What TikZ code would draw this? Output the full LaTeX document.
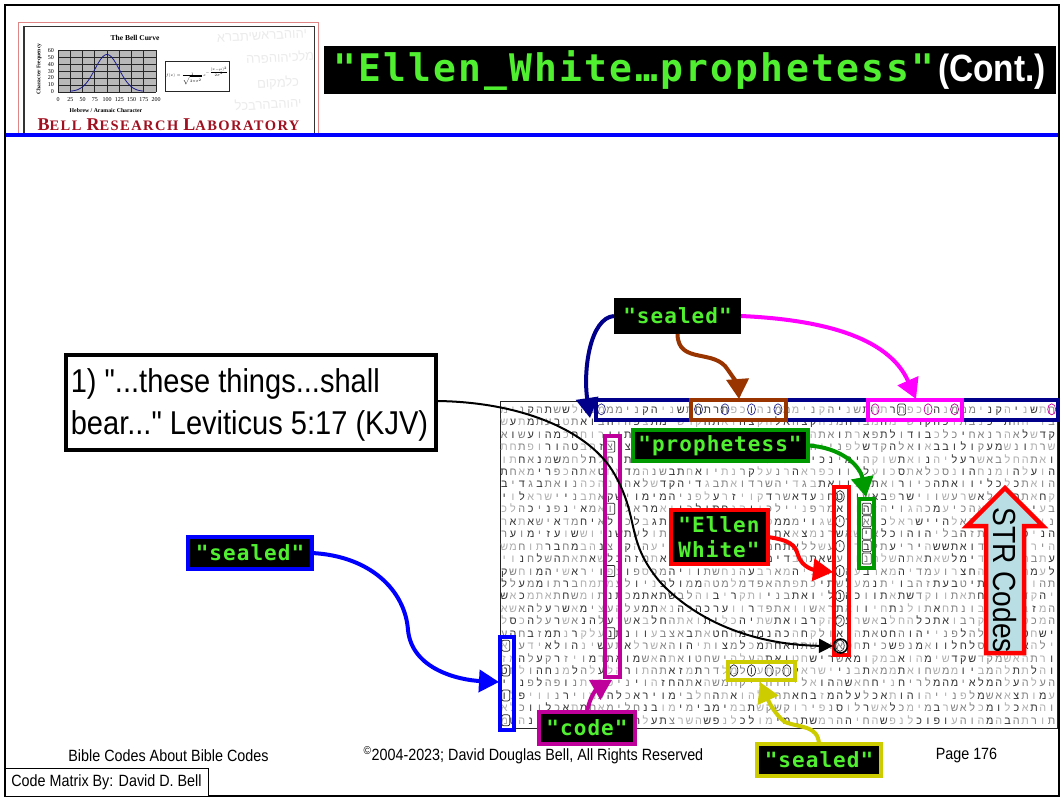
\documentclass[tikz,border=0pt]{standalone}
\usepackage{fontspec}
\usetikzlibrary{arrows.meta}
\setmainfont{Liberation Sans}
\newfontfamily\nar[FakeStretch=0.88]{Liberation Sans}
\newfontfamily\hebf[Script=Hebrew]{Liberation Sans}
\newfontfamily\lser{Liberation Serif}
\newfontfamily\termf[LetterSpace=5]{DejaVu Sans Mono Bold}
\newfontfamily\termt[LetterSpace=6]{DejaVu Sans Mono Bold}
\TeXXeTstate=1
\definecolor{hdark}{gray}{0.2}
\definecolor{hmid}{gray}{0.5}
\definecolor{hlight}{gray}{0.68}
\definecolor{termgreen}{HTML}{50F030}
\definecolor{dkblue}{HTML}{00008B}
\definecolor{brownb}{HTML}{993300}
\definecolor{purpb}{HTML}{C0009A}
\definecolor{yelb}{HTML}{CCCC00}
\definecolor{greenb}{HTML}{009900}
\definecolor{magb}{HTML}{FF00FF}
\definecolor{strfill}{HTML}{B9DEE3}
\definecolor{logored}{HTML}{A01020}
\newcount\lc \newcount\lseed \newcount\ltmp
\global\lseed=17
\def\pickcol{\global\lseed=\numexpr\lseed*137+187\relax
 \ltmp=\lseed \divide\ltmp 1009 \multiply\ltmp 1009 \global\advance\lseed-\ltmp
 \ifnum\lseed<380 \def\lcol{hdark}\else\ifnum\lseed<680 \def\lcol{hmid}\else\def\lcol{hlight}\fi\fi}
% letters are set from the right edge leftwards, each in its own cell and colour
\def\hcell#1{\ifnum\lc<63 \advance\lc 1 \pickcol\kern-8.83pt\hbox to 8.83pt{\hss\textcolor{\lcol}{#1}\hss}\kern-8.83pt\fi}
\def\hrowloop#1{\ifx#1\relax\else\hcell{#1}\expandafter\hrowloop\fi}
\def\hrow#1{\hbox to 556.29pt{\hebf\fontsize{10.8}{12}\selectfont\kern556.29pt\lc=0 \hrowloop#1\relax\hss}}
\tikzset{
 hebrow/.style={anchor=base east,inner sep=0pt,outer sep=0pt},
 termlabel/.style={fill=black,text=termgreen,font=\termf\fontsize{21}{25}\selectfont,align=center,inner sep=0pt,outer sep=0pt,line width=4pt},
 hl/.style={draw=#1,line width=4pt,inner sep=0pt,outer sep=0pt},
 conn/.style={draw=#1,line width=4pt,-{Triangle[length=20pt,width=22pt]}},
 frm/.style={draw=#1,line width=0.7pt},
 foot/.style={font=\nar\fontsize{16.3}{18}\selectfont,inner sep=0pt}
}
\begin{document}
\begin{tikzpicture}[x=1pt,y=-1pt]
\useasboundingbox (0,0) rectangle (1063,798);
\fill[white] (0,0) rectangle (1063,798);
% logo
\begin{scope}
\clip (25,27) rectangle (314,134);
\foreach \yy/\xx/\tt in {36/262/יהוהבראשיתברא,57/280/מלכיהוהפרה,83/278/כלמקום,104/268/יהוהבהרבכל}{
 \node[rotate=3,text=gray!16,inner sep=0pt,font=\hebf\fontsize{13}{14}\selectfont] at (\xx,\yy) {\beginR\tt\endR};
}
\end{scope}
\draw[draw=red!60!gray!60,line width=1pt] (18.5,133) -- (18.5,22) -- (318.5,22) -- (318.5,133);
\draw[black!80,line width=1.4pt] (24,133) -- (24,26.5) -- (314.5,26.5) -- (314.5,133);
\node[font=\lser\bfseries\fontsize{7.5}{8}\selectfont,inner sep=0pt] (logotitle) at (135,37.5) {The Bell Curve};
\fill[gray!55] (58,50) rectangle (156,92);
\foreach \i in {0,...,8}{\draw[gray!30!black,line width=0.6pt] ({58+12.25*\i},50) -- ({58+12.25*\i},92);}
\foreach \i in {0,...,6}{\draw[gray!30!black,line width=0.6pt] (58,{50+7*\i}) -- (156,{50+7*\i});}
\draw[dkblue!80!gray,line width=0.8pt,smooth,samples=50,domain=70:144] plot (\x,{91.5-37*exp(-((\x-107)/17)^2)});
\foreach \v [count=\i from 0] in {60,50,40,30,20,10,0}{
 \node[font=\lser\fontsize{6}{7}\selectfont,inner sep=0pt,anchor=east] at (54,{50.5+6.85*\i}) {\v};}
\foreach \v [count=\i from 0] in {0,25,50,75,100,125,150,175,200}{
 \node[font=\lser\fontsize{6}{7}\selectfont,inner sep=0pt] at ({58+12.25*\i},100) {\v};}
\node[rotate=90,font=\lser\bfseries\fontsize{5.5}{6}\selectfont,inner sep=0pt] (logoy) at (39,69) {Character Frequency};
\node[font=\lser\bfseries\fontsize{5.8}{6}\selectfont,inner sep=0pt] (logox) at (106,110.5) {Hebrew / Aramaic Character};
\node[draw=gray!30!black,fill=white,line width=0.7pt,minimum width=64pt,minimum height=30pt,inner sep=0pt] (formula) at (197,76)
 {\scalebox{0.72}{\fontsize{5}{6}\selectfont$f(x)=\frac{1}{\sqrt{2\pi\sigma^2}}\,e^{-\frac{(x-\mu)^2}{2\sigma^2}}$}};
\node[font=\lser\bfseries,text=logored,inner sep=0pt] (logoname) at (168.5,124.5)
 {\addfontfeature{LetterSpace=10}\fontsize{18}{18}\selectfont B\fontsize{14.5}{18}\selectfont ELL \fontsize{18}{18}\selectfont R\fontsize{14.5}{18}\selectfont ESEARCH \fontsize{18}{18}\selectfont L\fontsize{14.5}{18}\selectfont ABORATORY};
% frame, header
\draw[black,line width=2.2pt] (5,5) rectangle (1059,796);
\draw[blue,line width=3.6pt] (6,135) -- (1058,135);
\fill[black] (324,46) rectangle (1056,94);
\node[text=termgreen,inner sep=0pt,anchor=base west,font=\termt\fontsize{38}{40}\selectfont] (maintitle) at (333,81) {"Ellen\_White…prophetess"};
\node[text=white,inner sep=0pt,anchor=base east,font=\nar\bfseries\fontsize{38}{40}\selectfont] (cont) at (1046,81) {(Cont.)};
% matrix
\draw[gray!30!black,line width=1pt] (500.5,401) rectangle (1057,728);
\foreach \r/\s in {
1/חתשניהקנימממנהוכפתרתחתשניהקנימממנהוכפתרתחתשניהקנימממנהלששתהקנימ,
2/בויחהתיכנבתוכהקרשימהמברחמנהקצהאלהקצהואתהקרשימתצפהזהבואתטבעתמתעשה,
3/קדשלאהרנאחיכלכבודולתפארתואתהתדבראלכלחכמילבאשרמלאתיורוחחכמהועשוא,
4/שרתונשמעקולובבאואלהקדשלפנייהוהובצאתוולאימותועשיתציצזהבטהורופתחת,
5/ואתהחלבאשרעליהנואתשוקהימינכיאילמלאימהואוככרלחמאחתוחלתלחמשמנאחתו,
6/הועלהומנחהונסכלאתסכועליווכפראהרנעלקרנתיואחתבשנהמדמחטאתהכפרימאחת,
7/הואתכלכליוואתהכיורואתכנוואתבגדיהשרדואתבגדיהקדשלאהרנהכהנואתבגדיב,
8/קחאתהעגלאשרעשווישרפבאשויטחנעדאשרדקויזרעלפניהמימוישקאתבניישראלוי,
9/בעיניכוראהכיעמכהגויהזהויאמרפניילכווהנחתילכויאמראליואמאינפניכהלכ,
10/ניהאדניהוהאלהיישראלכיאורישגוימממפניכוהרחבתיאתגבלכולאיחמדאישאתארצ,
11/הניפתנופתזהבליהוהוכלאישאשרנמצאאתותכלתוארגמנותולעתשניוששועזימוער,
12/היריעתלבדואתששהיריעתלבדויעשללאתחמשימעלשפתהיריעההקיצנהבמחברתוחמש,
13/עתבתימלבדימלשאתאתהשלחנויעשאתהבדימעצישטימויצפאתמזהבלשאתאתהשלחנוי,
14/לעמתקלעיהחצרועמדיהמארבעהואדניהמארבעהנחשתוויהמכספוצפויראשיהמוחשק,
15/תהויעשושתיטבעתזהבויתנמעלשתיכתפתהאפדמלמטהממולפניולעמתמחברתוממעלל,
16/יהקדשומשחתאתווקדשתאתווכהנליואתבניותקריבוהלבשתאתמכתנתומשחתאתמכאש,
17/המזבחסביבונתחאתולנתחיוואתראשוואתפדרווערכהכהנאתמעלהעצימאשרעלהאשא,
18/המכסהאתהקרבואתכלהחלבאשרעלהקרבואתשתיהכליתואתהחלבאשרעלהנאשרעלהכסל,
19/ישחטאתהעלהלפנייהוהחטאתהואולקחהכהנמדמהחטאתבאצבעוונתנעלקרנתמזבחהע,
20/ילהאשמונסלחלוואמנפשכיתחטאועשתהאחתמכלמצותיהוהאשרלאתעשינהולאידעוא,
21/ורתהאשמקדשקדשימהואבמקומאשרישחטואתהעלהישחטואתהאשמואתדמויזרקעלהמז,
22/והלתתלהמביוממשחואתממאתבניישראלחקתעולמלדרתמזאתהתורהלעלהלמנחהולחט,
23/העלהעלהמלאימהמלריחניחחאשההואליהוהויקחמשהאתהחזהויניפהותנופהלפנייהו,
24/עמותצאאשמלפנייהוהותאכלעלהמזבחאתהעלהואתהחלבימויראכלהעמוירנוויפלו,
25/והתאכלומכלאשרבמימכלאשרלוסנפירוקשקשתבמימבימימובנחלימאתמתאכלווכלא,
26/תורתהבהמהוהעופוכלנפשהחיההרמשתבמימולכלנפשהשרצתעלהארצלהבדילבינהטמ}{
 \node[hebrow] (row\r) at (1056.1,{413.3+12.44*(\r-1)}) {\expandafter\hrow\expandafter{\s}};
}
% letter frames
\foreach \c in {0,11,14,20}{\draw[frm=purpb] ({1051.7-8.83*\c},409.3) ellipse [x radius=4,y radius=5.5];}
\foreach \c in {17}{\draw[frm=gray!30!black,rounded corners=1.5pt] ({1051.7-8.83*\c-4},404) rectangle +(8,11);}
\foreach \c in {31,34,37,40,51}{\draw[frm=dkblue!70!gray] ({1051.7-8.83*\c},409.3) ellipse [x radius=4,y radius=5.5];}
\foreach \r in {9,...,13}{\draw[frm=gray!30!black,rounded corners=1pt] (862.3,{403.8+12.44*(\r-1)}) rectangle +(9,11);}
\foreach \r in {8,10,...,20}{\draw[frm=gray!30!black] (840,{409.3+12.44*(\r-1)}) ellipse [x radius=4.2,y radius=5.8];}
\foreach \r in {4,9,14,19}{\draw[frm=gray!30!black,rounded corners=1pt] (605.8,{403.8+12.44*(\r-1)}) rectangle +(9,11);}
\foreach \r in {20,22,24,26}{\draw[frm=gray!30!black,rounded corners=2pt] (501.8,{403.8+12.44*(\r-1)}) rectangle +(8,11);}
\foreach \c in {30,32,34,36}{\draw[frm=gray!30!black] ({1051.7-8.83*\c},670.5) ellipse [x radius=4,y radius=5.8];}
% highlight boxes
\node[hl=dkblue,minimum width=462pt,minimum height=20pt] (topblue) at (827,409.5) {};
\node[hl=brownb,minimum width=95pt,minimum height=20pt] (topbrown) at (738.5,409.5) {};
\node[hl=magb,minimum width=94pt,minimum height=20pt] (topmag) at (915,409.5) {};
\node[hl=greenb,minimum width=15pt,minimum height=69pt] (colgreen) at (866.5,533) {};
\node[hl=red,minimum width=15pt,minimum height=168pt] (colred) at (841,570.5) {};
\node[hl=purpb,minimum width=15pt,minimum height=241pt] (colpurp) at (612.5,556.5) {};
\node[hl=blue,minimum width=14pt,minimum height=93pt] (colblue) at (506.5,683) {};
\node[hl=yelb,minimum width=67pt,minimum height=18pt] (rowyel) at (761.5,671) {};
\node[draw=black,line width=1.6pt,circle,minimum size=14pt,inner sep=0pt,outer sep=0pt] (ringa) at (840.5,646) {};
% STR arrow
\draw[draw=red,fill=strfill,line width=4.5pt,miter limit=6] (1005,488) -- (1043,526) -- (1024,526) -- (1024,653) -- (986,653) -- (986,526) -- (967,526) -- cycle;
\node[rotate=-90,inner sep=0pt,font=\nar\fontsize{32}{34}\selectfont] (strlabel) at (1005,580) {STR Codes};
% labels
\node[termlabel,minimum width=127pt,minimum height=36pt] (sealedtop) at (677.5,316) {"sealed"};
\node[termlabel,draw=greenb,minimum width=175pt,minimum height=31pt] (proph) at (720,445.5) {"prophetess"};
\node[termlabel,draw=red,minimum width=97pt,minimum height=54pt] (ellen) at (719,537) {"Ellen\\White"};
\node[termlabel,draw=blue,minimum width=124pt,minimum height=32pt] (sealedblue) at (250,553) {"sealed"};
\node[termlabel,draw=purpb,minimum width=96pt,minimum height=32pt] (code) at (587,728) {"code"};
\node[termlabel,draw=yelb,minimum width=124pt,minimum height=32pt] (sealedyel) at (819,760) {"sealed"};
% callout
\node[draw=black,fill=white,line width=4pt,minimum width=370pt,minimum height=95pt,inner sep=0pt,outer sep=0pt] (callout) at (250.5,402) {};
\node[inner sep=0pt,align=left,font=\nar\fontsize{33}{42}\selectfont] (callouttext) at (249.5,405) {1) "...these things...shall\\bear..." Leviticus 5:17 (KJV)};
% connector ends
\coordinate (tipdk) at (590,418);
\coordinate (tipbr) at (739,399);
\coordinate (tipmg) at (916,399);
\coordinate (tipgr) at (866,497);
\coordinate (tipre) at (833,572);
\coordinate (tipbl) at (499,682);
\coordinate (tipco) at (612,680);
\coordinate (tipye) at (760,682);
\coordinate (tipbk) at (833,646);
\coordinate (startblack) at (437,401);
% connectors
\draw[conn=dkblue] (sealedtop.west) .. controls (590,318) and (583,370) .. (tipdk);
\draw[conn=brownb] (sealedtop.south) .. controls (678,365) and (715,348) .. (728,370) .. controls (735,380) and (738,385) .. (tipbr);
\draw[conn=magb] (sealedtop.east) .. controls (830,320) and (890,340) .. (tipmg);
\draw[conn=greenb] (proph.east) .. controls (840,447) and (860,465) .. (tipgr);
\draw[conn=red] (ellen.east) .. controls (790,540) and (795,545) .. (798,555) .. controls (802,568) and (815,570) .. (tipre);
\draw[conn=blue] (sealedblue.east) .. controls (370,556) and (405,590) .. (408,630) .. controls (412,670) and (460,680) .. (tipbl);
\draw[conn=purpb] (code.north) .. controls (590,695) and (598,688) .. (tipco);
\draw[conn=yelb] (sealedyel.north) .. controls (818,725) and (800,728) .. (785,722) .. controls (775,715) and (768,700) .. (tipye);
\draw[black,line width=2pt,-{Triangle[length=14pt,width=14pt]}] (startblack) .. controls (520,402) and (590,430) .. (615,475) .. controls (640,520) and (625,540) .. (660,582) .. controls (700,625) and (760,645) .. (tipbk);
% footer
\node[foot] (foota) at (168.5,755.5) {Bible Codes About Bible Codes};
\node[foot] (footb) at (533.5,755.5) {\textsuperscript{©}2004-2023; David Douglas Bell, All Rights Reserved};
\node[foot] (footc) at (966.5,755.5) {Page 176};
\node[draw=black,fill=white,line width=1pt,minimum width=203pt,minimum height=28pt,inner sep=0pt,font=\nar\fontsize{16.3}{18}\selectfont] (matrixby) at (106.5,782) {Code Matrix By: David D. Bell};
\end{tikzpicture}
\end{document}
